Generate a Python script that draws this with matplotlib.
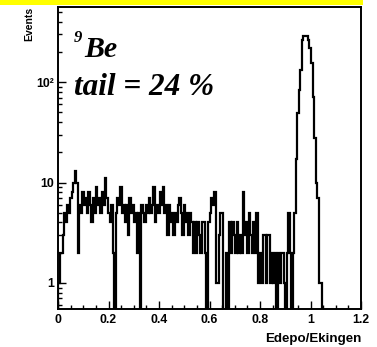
import numpy as np
import matplotlib
matplotlib.use("Agg")
import matplotlib.pyplot as plt
from matplotlib.patches import Rectangle
from matplotlib.ticker import FixedLocator, FixedFormatter, MultipleLocator, NullFormatter

# histogram: 200 bins of width 0.006 between 0 and 1.2
x_lo, x_hi, n_bins = 0.0, 1.2, 200
counts = [
    1, 2, 2, 3, 5, 4, 6, 5, 7, 8,
    10, 13, 10, 2, 6, 5, 8, 6, 7, 5,
    8, 6, 4, 7, 5, 9, 6, 7, 5, 8,
    6, 11, 7, 5, 4, 6, 2, 0, 5, 7,
    6, 9, 5, 6, 4, 6, 3, 7, 5, 6,
    4, 5, 2, 5, 0, 6, 5, 4, 6, 5,
    7, 5, 6, 9, 4, 6, 5, 8, 6, 9,
    5, 6, 3, 6, 4, 5, 3, 5, 4, 6,
    7, 5, 3, 6, 4, 5, 3, 5, 4, 2,
    4, 2, 4, 3, 2, 4, 4, 2, 0, 4,
    5, 7, 6, 8, 1, 1, 3, 5, 5, 0,
    0, 2, 0, 4, 2, 4, 3, 2, 4, 2,
    3, 2, 8, 3, 4, 2, 5, 3, 2, 4,
    2, 5, 1, 2, 1, 3, 3, 1, 3, 3,
    1, 2, 1, 2, 0, 2, 1, 2, 2, 1,
    0, 2, 5, 2, 0, 2, 5, 17, 49, 83,
    131, 262, 287, 290, 285, 262, 218, 155, 71, 28,
    10, 7, 1, 1, 0, 0, 0, 0, 0, 0,
    0, 0, 0, 0, 0, 0, 0, 0, 0, 0,
    0, 0, 0, 0, 0, 0, 0, 0, 0, 0,
]
edges = np.linspace(x_lo, x_hi, n_bins + 1)

y_ticks = [1, 10, 100]
y_ticklabels = ["1", "10", "10²"]
x_ticks = [0, 0.2, 0.4, 0.6, 0.8, 1.0, 1.2]
x_ticklabels = ["0", "0.2", "0.4", "0.6", "0.8", "1", "1.2"]

W, H = 377, 347
fig = plt.figure(figsize=(W / 100, H / 100), dpi=100)
fig.patches.append(Rectangle((0, 1 - 5 / H), 363 / W, 5 / H, transform=fig.transFigure,
                             facecolor="#ffff00", edgecolor="none"))

ax = fig.add_axes([58 / W, 1 - 309 / H, (361 - 58) / W, (309 - 7) / H])
ax.stairs(np.array(counts, dtype=float), edges, color="black", linewidth=1.6, baseline=0)
ax.set_yscale("log")
ax.set_xlim(0, 1.2)
ax.set_ylim(0.55, 560)

for s in ax.spines.values():
    s.set_linewidth(1.4)

ax.xaxis.set_major_locator(FixedLocator(x_ticks))
ax.xaxis.set_major_formatter(FixedFormatter(x_ticklabels))
ax.xaxis.set_minor_locator(MultipleLocator(0.05))
ax.yaxis.set_major_locator(FixedLocator(y_ticks))
ax.yaxis.set_major_formatter(FixedFormatter(y_ticklabels))
minor_y = [m * 10 ** e for e in range(-1, 3) for m in range(2, 10)]
ax.yaxis.set_minor_locator(FixedLocator(minor_y))
ax.yaxis.set_minor_formatter(NullFormatter())
ax.tick_params(which="both", direction="in", top=False, right=False, width=1.0)
ax.tick_params(which="major", length=6)
ax.tick_params(which="minor", length=3)
ax.tick_params(axis="x", pad=3.5)
ax.tick_params(axis="y", pad=3)
for lab in ax.get_xticklabels() + ax.get_yticklabels():
    lab.set_fontfamily("Liberation Sans")
    lab.set_fontweight("bold")
    lab.set_fontsize(8.8)

fig.text(361 / W, 1 - 339 / H, "Edepo/Ekingen", ha="right", va="center",
         family="Liberation Sans", weight="bold", size=9.6)
fig.text(29 / W, 1 - 7 / H, "Events", rotation=90, ha="center", va="top",
         family="Liberation Sans", weight="bold", size=7.5)

serif = dict(family="Liberation Serif", weight="bold", style="italic")
fig.text(74 / W, 1 - 42 / H, "9", ha="left", va="baseline", size=12, **serif)
fig.text(84 / W, 1 - 57 / H, "Be", ha="left", va="baseline", size=21.5, **serif)
fig.text(74 / W, 1 - 95 / H, "tail = 24 %", ha="left", va="baseline", size=22.5, **serif)

fig.savefig("out.png", dpi=100)
